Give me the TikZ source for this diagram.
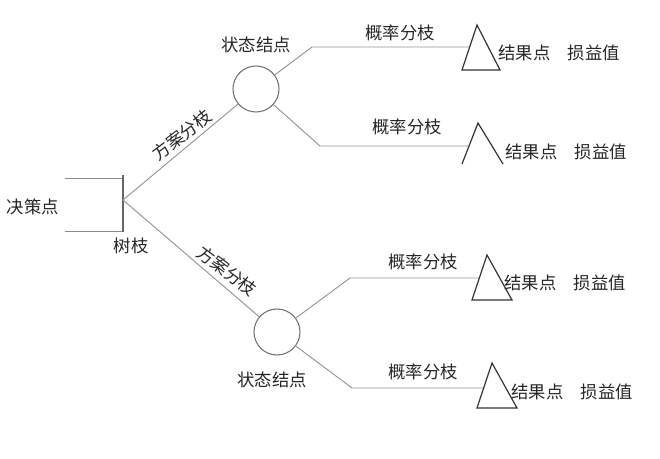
\documentclass[tikz,border=0pt]{standalone}
\usepackage{fontspec}
\newfontfamily\cjk{Noto Sans CJK SC}
\begin{document}
\begin{tikzpicture}[x=0.75pt,y=-0.75pt,
  branch/.style={draw=black!42, line width=0.7pt},
  boxline/.style={draw=black!45, line width=0.7pt},
  chance/.style={circle, draw=black!55, line width=0.8pt, minimum size=34.5pt, inner sep=0pt},
  tri/.style={draw=black!80, line width=0.9pt, line join=miter},
  lbl/.style={font=\cjk\fontsize{13}{15}\selectfont, text=black!85, inner sep=1pt}]
\useasboundingbox (0,0) rectangle (660,459);
% decision point
\draw[boxline] (65,178) -- (123,178);
\draw[boxline] (65,231) -- (123,231);
\draw[draw=black!60, line width=0.8pt] (123,175) -- (123,232);
\coordinate (d) at (123,200);
\node[lbl] (dlab) at (33,207) {决策点};
\node[lbl] (dsub) at (131,246) {树枝};
% chance nodes
\node[chance] (c1) at (256,89) {};
\node[chance] (c2) at (277,332) {};
\node[lbl] (c1lab) at (256,45) {状态结点};
\node[lbl] (c2lab) at (272,380) {状态结点};
% scheme branches
\draw[branch] (d) -- (c1);
\draw[branch] (d) -- (c2);
\node[lbl, rotate=37] (s1) at (182,135) {方案分枝};
\node[lbl, rotate=-37] (s2) at (227,271) {方案分枝};
% bends and ends
\coordinate (b1) at (312,47);  \coordinate (e1) at (470,47);
\coordinate (b2) at (320,146); \coordinate (e2) at (469,146);
\coordinate (b3) at (350,278); \coordinate (e3) at (479,278);
\coordinate (b4) at (352,388); \coordinate (e4) at (484,388);
\draw[branch] (c1) -- (b1) -- (e1);
\draw[branch] (c1) -- (b2) -- (e2);
\draw[branch] (c2) -- (b3) -- (e3);
\draw[branch] (c2) -- (b4) -- (e4);
% result points
\draw[tri] (477,25) -- (462,70) -- (500,70) -- cycle;
\draw[tri] (462,164) -- (478,123) -- (503,164);
\draw[tri] (487,255) -- (472,300) -- (512,300) -- cycle;
\draw[tri] (492,363) -- (477,408) -- (517,408) -- cycle;
% probability branch labels
\node[lbl] (p1) at (400,33) {概率分枝};
\node[lbl] (p2) at (407,127) {概率分枝};
\node[lbl] (p3) at (423,262) {概率分枝};
\node[lbl] (p4) at (423,372) {概率分枝};
% result labels
\node[lbl, anchor=west] (r1) at (497,53) {结果点　损益值};
\node[lbl, anchor=west] (r2) at (504,152) {结果点　损益值};
\node[lbl, anchor=west] (r3) at (503,283) {结果点　损益值};
\node[lbl, anchor=west] (r4) at (510,392) {结果点　损益值};
\end{tikzpicture}
\end{document}
